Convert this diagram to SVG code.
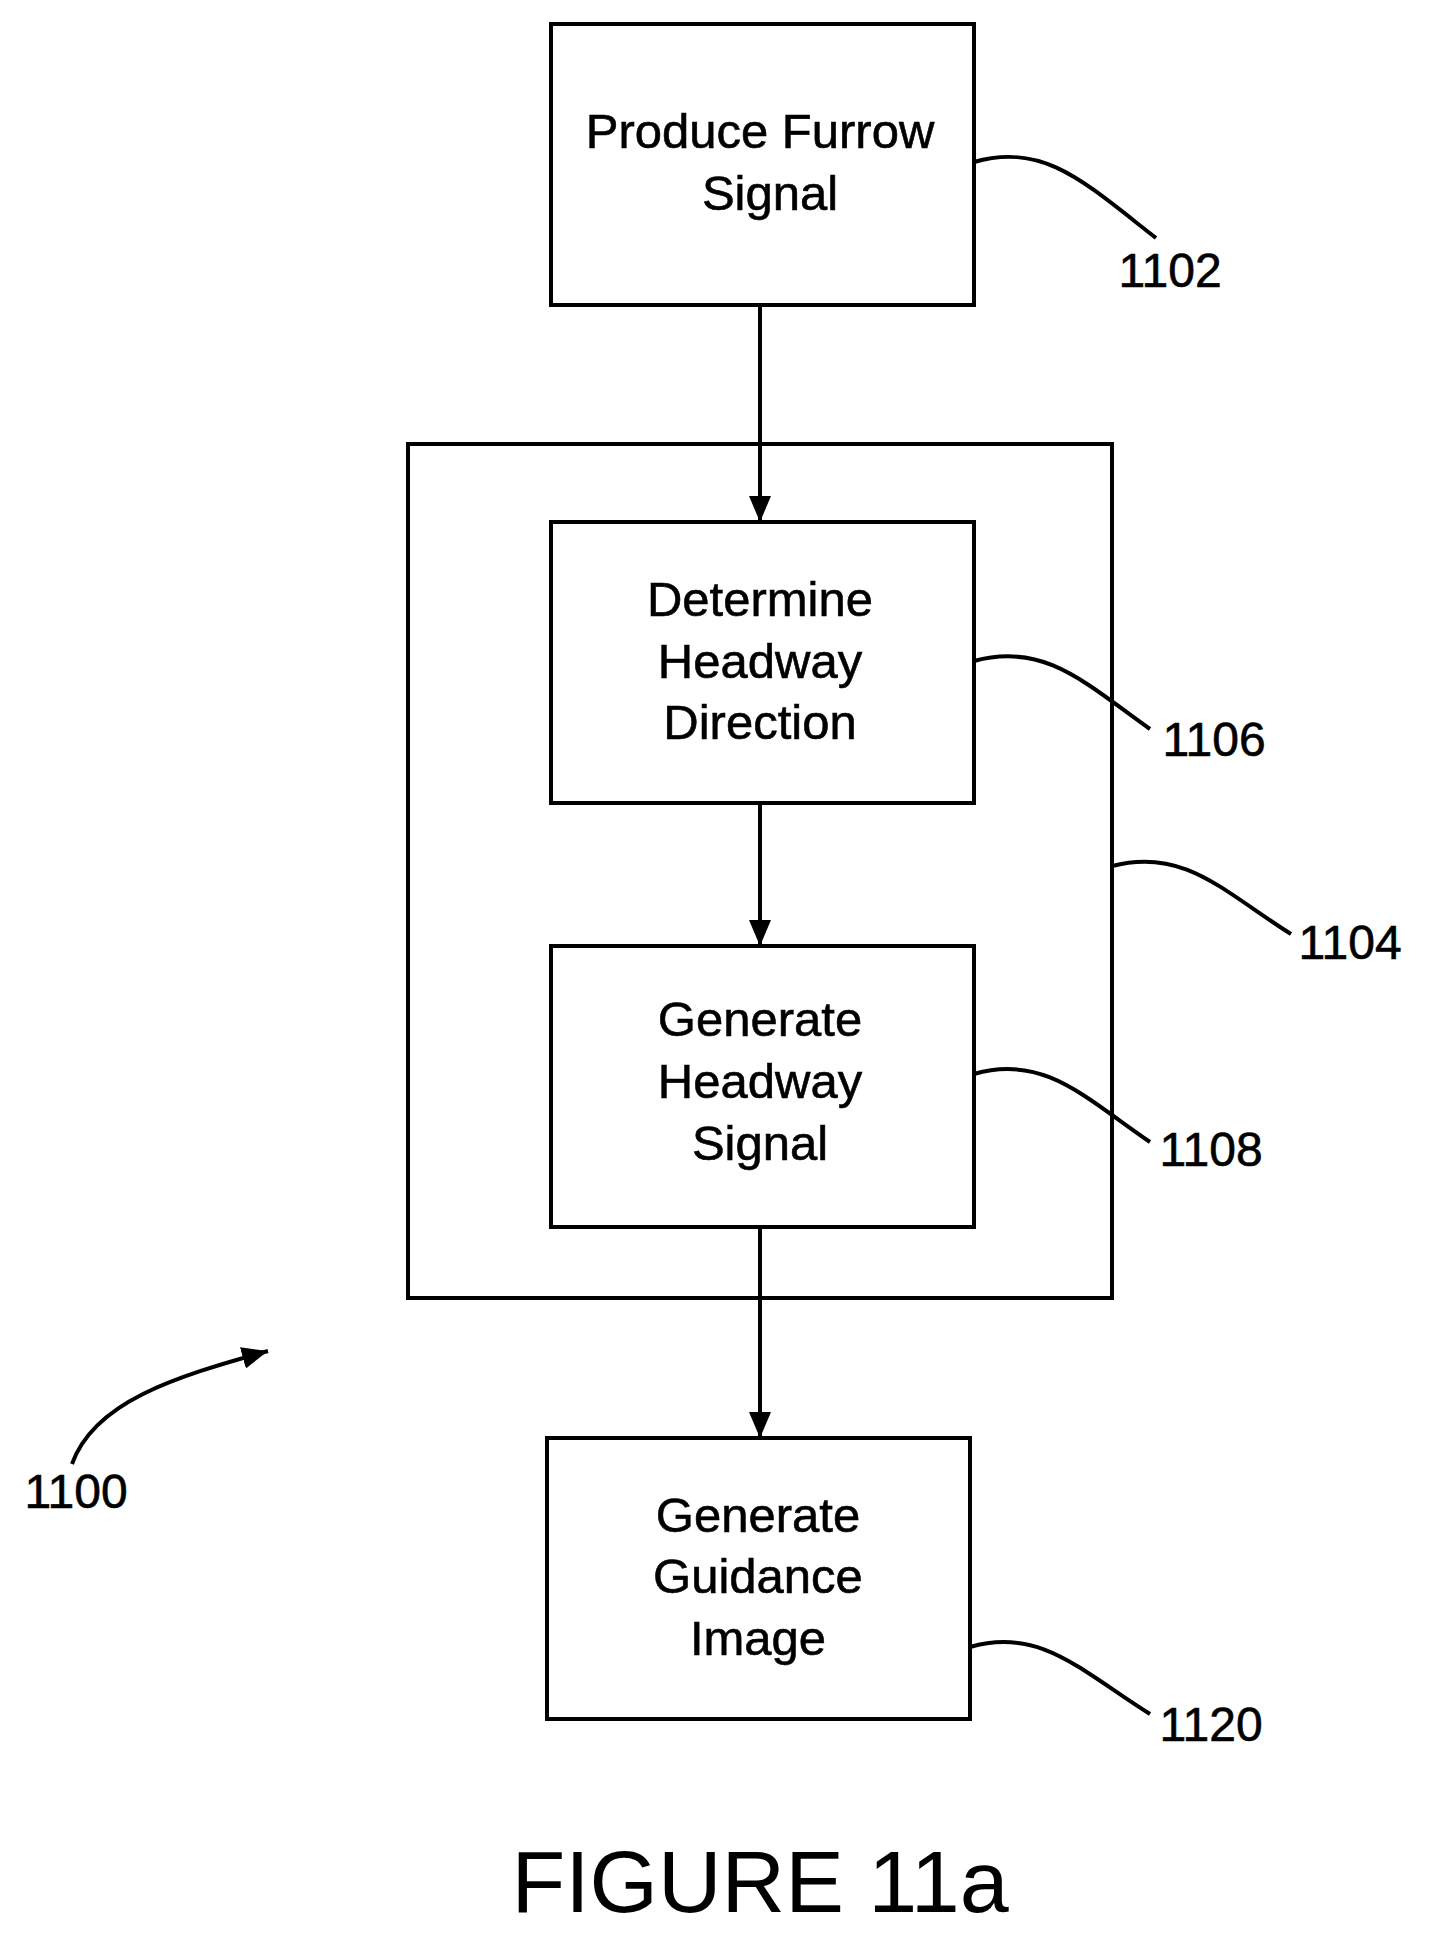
<svg xmlns="http://www.w3.org/2000/svg" width="1429" height="1949" viewBox="0 0 1429 1949">
<style>
.b{fill:#fff;stroke:#000;stroke-width:4}
.t{font-family:"Liberation Sans",Arial,sans-serif;font-size:49px;text-anchor:middle;fill:#000;stroke:#000;stroke-width:0.6}
.l{font-family:"Liberation Sans",Arial,sans-serif;font-size:48px;text-anchor:middle;fill:#000;stroke:#000;stroke-width:0.6}
.c{fill:none;stroke:#000;stroke-width:4}
</style>
<defs>
<marker id="ah" viewBox="0 0 26 22" markerWidth="26" markerHeight="22" refX="26" refY="11" orient="auto" markerUnits="userSpaceOnUse"><path d="M0,0L26,11L0,22z" fill="#000"/></marker></defs>
<g transform="translate(4,2)">
<rect id="outer" class="b" x="404" y="442" width="704" height="854"/>
<g id="n1102"><rect class="b" x="547" y="22" width="423" height="281"/><text class="t" x="756" y="146">Produce Furrow</text><text class="t" x="766" y="208">Signal</text></g>
<g id="n1106"><rect class="b" x="547" y="520" width="423" height="281"/><text class="t" x="756" y="614">Determine</text><text class="t" x="756" y="676">Headway</text><text class="t" x="756" y="737">Direction</text></g>
<g id="n1108"><rect class="b" x="547" y="944" width="423" height="281"/><text class="t" x="756" y="1034">Generate</text><text class="t" x="756" y="1096">Headway</text><text class="t" x="756" y="1158">Signal</text></g>
<g id="n1120"><rect class="b" x="543" y="1436" width="423" height="281"/><text class="t" x="754" y="1530">Generate</text><text class="t" x="754" y="1591">Guidance</text><text class="t" x="754" y="1653">Image</text></g>
<g id="connectors">
<line class="c" x1="756" y1="303" x2="756" y2="520" marker-end="url(#ah)"/>
<line class="c" x1="756" y1="801" x2="756" y2="944" marker-end="url(#ah)"/>
<line class="c" x1="756" y1="1225" x2="756" y2="1436" marker-end="url(#ah)"/>
<path class="c" d="M970,160 C1040,140 1080,180 1152,236"/>
<path class="c" d="M970,659 C1040,640 1080,680 1146,727"/>
<path class="c" d="M1108,864 C1180,845 1220,890 1287,932"/>
<path class="c" d="M970,1072 C1040,1052 1080,1095 1146,1140"/>
<path class="c" d="M966,1645 C1036,1625 1076,1668 1146,1712"/>
<path class="c" d="M68,1462 C90,1400 170,1375 264,1349" marker-end="url(#ah)"/>
</g>
<text class="l" x="1166" y="285">1102</text>
<text class="l" x="1210" y="754">1106</text>
<text class="l" x="1346" y="957">1104</text>
<text class="l" x="1207" y="1164">1108</text>
<text class="l" x="1207" y="1739">1120</text>
<text class="l" x="72" y="1506">1100</text>
<text x="756" y="1910" font-family="Liberation Sans,Arial,sans-serif" font-size="88" text-anchor="middle">FIGURE 11a</text>
</g>
</svg>
